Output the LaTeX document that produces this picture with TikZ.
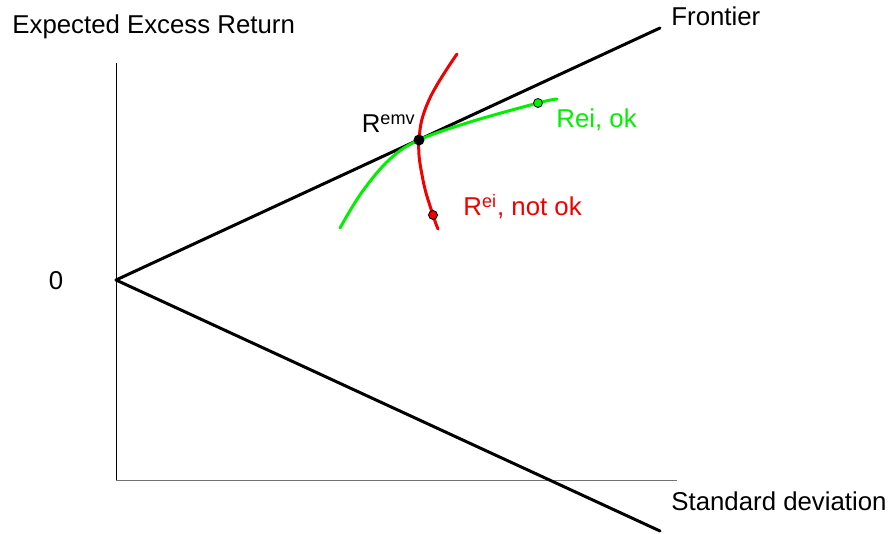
\documentclass[tikz,border=0pt]{standalone}
\usepackage{fontspec}
\setmainfont{Liberation Sans}
\definecolor{lgreen}{RGB}{0,240,0}
\definecolor{lred}{RGB}{240,0,0}
\begin{document}
\begin{tikzpicture}[x=0.5pt,y=-0.5pt,
  lbl/.style={inner sep=0pt,font=\fontsize{12.9}{15}\selectfont},
  axis/.style={line width=0.5pt},
  ray/.style={line width=1.5pt,line cap=round},
  curve/.style={line width=1.5pt,line cap=round},
  dotmark/.style={circle,inner sep=0pt,minimum size=4.5pt,draw=black,line width=0.4pt}]
\useasboundingbox (0,0) rectangle (889,534);
% coordinates
\coordinate (O) at (116,280);
\coordinate (ytop) at (116,63);
\coordinate (ybot) at (116,480);
\coordinate (xend) at (677,480);
\coordinate (up) at (660,28);
\coordinate (down) at (660,531);
% axes
\draw[axis] (ytop) -- (ybot);
\draw[axis,black!55] (ybot) -- (xend);
% frontier rays
\draw[ray] (O) -- (up);
\draw[ray] (O) -- (down);
% green curve
\draw[curve,lgreen] plot[smooth,tension=0.6] coordinates {(340,228) (362,192) (390,159) (419,140) (470,122) (538,103) (557,99)};
% red curve
\draw[curve,lred] plot[smooth,tension=0.7] coordinates {(457,54) (429,100) (419,140) (423,180) (433,215) (438,229)};
% dots
\node[circle,fill=black,inner sep=0pt,minimum size=5.5pt] (emv) at (419,140) {};
\node[dotmark,fill=lgreen] (gdot) at (538,103) {};
\node[dotmark,fill=lred] (rdot) at (433,215) {};
% labels
\node[lbl,anchor=base west] (ylab) at (12,34) {Expected Excess Return};
\node[lbl,anchor=base west] (flab) at (671,26) {Frontier};
\node[lbl,anchor=base west] (xlab) at (671,510) {Standard deviation};
\node[lbl] (zero) at (56,281) {0};
\node[lbl,anchor=base east] (emvlab) at (416,133) {R\textsuperscript{emv}};
\node[lbl,anchor=base west,text=lgreen] (oklab) at (556,128) {Rei, ok};
\node[lbl,anchor=base west,text=lred] (notlab) at (463,216) {R\textsuperscript{ei}, not ok};
\end{tikzpicture}
\end{document}
